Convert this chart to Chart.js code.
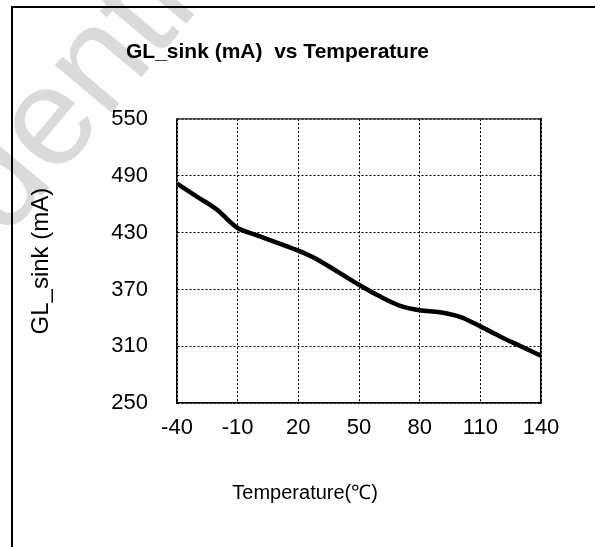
<!DOCTYPE html>
<html>
<head>
<meta charset="utf-8">
<script src="https://cdn.jsdelivr.net/npm/chart.js@4.4.0/dist/chart.umd.min.js"></script>
<style>
  body { margin: 0; background: #fff; overflow: hidden; }
  #wrap { position: relative; width: 595px; height: 547px; }
  #frame {
    position: absolute; left: 11px; top: 6px; width: 700px; height: 700px;
    border-top: 2px solid #000; border-left: 2px solid #000; pointer-events: none;
  }
</style>
</head>
<body>
<div id="wrap">
  <canvas id="myChart" width="595" height="547"></canvas>
  <div id="frame"></div>
</div>
<script>
const temps = [-40, -30, -20, -15, -10, 0, 10, 20, 30, 40, 50, 60, 70, 80, 90, 100, 110, 120, 130, 140];
const sinkCurrent = [482, 468, 454, 444, 435, 427, 419, 411, 401, 388, 375, 363, 353, 348, 346, 341, 331, 320, 310, 300];
const xTicks = [-40, -10, 20, 50, 80, 110, 140];
const yTicks = [250, 310, 370, 430, 490, 550];

const FONT = "'Liberation Sans', Arial, sans-serif";

// faint watermark behind everything, x axis title placed like the original
const extras = {
  id: "extras",
  beforeDraw(chart) {
    const ctx = chart.ctx;
    ctx.save();
    ctx.translate(-205, 490);
    ctx.rotate(-50 * Math.PI / 180);
    ctx.fillStyle = "#dadada";
    ctx.font = "140px " + FONT;
    ctx.textBaseline = "alphabetic";
    ctx.fillText("Confidential", 0, 0);
    ctx.restore();
  },
  afterDraw(chart) {
    const { ctx, chartArea } = chart;
    ctx.save();
    ctx.fillStyle = "#000";
    ctx.font = "20px " + FONT;
    ctx.textAlign = "center";
    ctx.textBaseline = "middle";
    ctx.fillText("Temperature(℃)", chartArea.left + chartArea.width * 0.352, chartArea.bottom + 90);
    ctx.restore();
  },
};

const chart = new Chart(document.getElementById("myChart"), {
  type: "line",
  plugins: [extras],
  data: {
    datasets: [
      {
        label: "GL_sink",
        data: temps.map((t, i) => ({ x: t, y: sinkCurrent[i] })),
        borderColor: "#000",
        borderWidth: 4.5,
        pointRadius: 0,
        cubicInterpolationMode: "monotone",
        fill: false,
      },
    ],
  },
  options: {
    responsive: false,
    animation: false,
    layout: { padding: { left: 14, right: 54, top: 0, bottom: 0 } },
    plugins: {
      legend: { display: false },
      tooltip: { enabled: false },
      title: {
        display: true,
        text: "GL_sink (mA)  vs Temperature",
        color: "#000",
        font: { family: FONT, size: 21, weight: "bold" },
        padding: { top: 40, bottom: 54 },
      },
    },
    scales: {
      x: {
        type: "linear",
        min: -40,
        max: 140,
        afterBuildTicks: (s) => { s.ticks = xTicks.map((v) => ({ value: v })); },
        afterFit: (s) => { s.height = 144; },
        ticks: { color: "#000", padding: 12, font: { family: FONT, size: 22 } },
        grid: { color: "#000", lineWidth: 1, drawTicks: false },
        border: { display: true, color: "#000", width: 1.5, dash: [2, 2] },
      },
      y: {
        type: "linear",
        min: 250,
        max: 550,
        afterBuildTicks: (s) => { s.ticks = yTicks.map((v) => ({ value: v })); },
        afterFit: (s) => { s.width = 163; },
        ticks: { color: "#000", padding: 29, font: { family: FONT, size: 22 } },
        grid: { color: "#000", lineWidth: 1, drawTicks: false },
        border: { display: true, color: "#000", width: 1.5, dash: [2, 2] },
        title: {
          display: true,
          text: "GL_sink (mA)",
          color: "#000",
          font: { family: FONT, size: 24 },
          padding: { top: 13, bottom: 0 },
        },
      },
      xTop: {
        type: "linear",
        position: "top",
        min: -40,
        max: 140,
        ticks: { display: false },
        grid: { display: false, drawTicks: false },
        border: { display: true, color: "#444", width: 1.5 },
      },
      yRight: {
        type: "linear",
        position: "right",
        min: 250,
        max: 550,
        ticks: { display: false },
        grid: { display: false, drawTicks: false },
        border: { display: true, color: "#000", width: 1.5 },
      },
    },
  },
});
</script>
</body>
</html>
